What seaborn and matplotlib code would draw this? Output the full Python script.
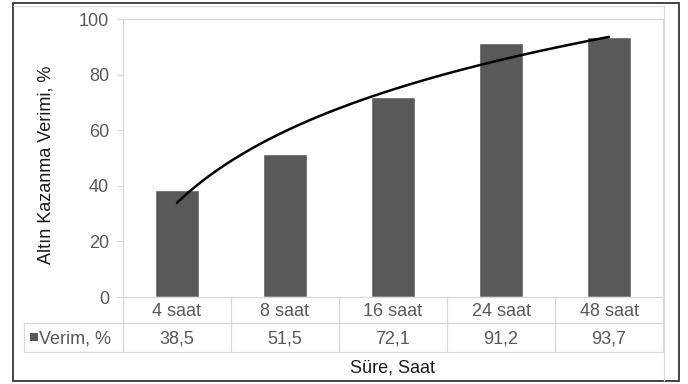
import numpy as np
import pandas as pd
import matplotlib
matplotlib.use("Agg")
import matplotlib.pyplot as plt
import matplotlib.transforms as mtransforms
from matplotlib.patches import Rectangle
import seaborn as sns

# Gold recovery yield by leaching time
categories = ["4 saat", "8 saat", "16 saat", "24 saat", "48 saat"]
verim = [38.5, 51.5, 72.1, 91.2, 93.7]
value_labels = ["38,5", "51,5", "72,1", "91,2", "93,7"]
yticks = [0, 20, 40, 60, 80, 100]
series_name = "Verim, %"
ylabel = "Altın Kazanma Verimi, %"
xlabel = "Süre, Saat"

sns.set_theme(style="white")
plt.rcParams["font.family"] = ["Liberation Sans", "DejaVu Sans"]

BAR = "#595959"
GRID = "#d9d9d9"
TXT = "#595959"
FS = 13

W, H = 688, 384
fig = plt.figure(figsize=(W / 100, H / 100), dpi=100)
L, R, T, B = 123, 663, 19, 297
ax = fig.add_axes([L / W, 1 - B / H, (R - L) / W, (B - T) / H])

df = pd.DataFrame({"Süre": categories, "Verim": verim})
sns.barplot(data=df, x="Süre", y="Verim", color=BAR, saturation=1,
            width=0.4, ax=ax)

# logarithmic trend line fitted to the bar values
idx = np.arange(len(verim))
a, b = np.polyfit(np.log(idx + 1), verim, 1)
xs = np.linspace(0, len(verim) - 1, 200)
ax.plot(xs, a * np.log(xs + 1) + b, color="black", lw=1.8, zorder=3)

ax.set_xlim(-0.5, len(categories) - 0.5)
ax.set_ylim(0, 100)
ax.set_yticks(yticks)
ax.set_xticks([])
ax.set_xlabel("")
ax.set_ylabel(ylabel, fontsize=FS, color="#1a1a1a", va="center")
ax.yaxis.set_label_coords((46 - L) / (R - L), (B - 165) / (B - T))
ax.tick_params(axis="y", left=True, length=4, width=0.8, color=GRID,
               labelcolor=TXT, labelsize=FS, pad=6)
for s in ax.spines.values():
    s.set_color(GRID)
    s.set_linewidth(0.9)

# overlay in pixel coordinates for the data table and frame
ov = fig.add_axes([0, 0, 1, 1])
ov.set_xlim(0, W)
ov.set_ylim(H, 0)
ov.axis("off")
ov.patch.set_visible(False)
trans = mtransforms.blended_transform_factory(ax.transData, ov.transData)

ROW1, ROW2, ROW3 = 297, 323, 352
lkw = dict(color=GRID, lw=0.9, solid_capstyle="butt")
for k in range(len(categories) + 1):
    ov.plot([k - 0.5, k - 0.5], [ROW1, ROW3], transform=trans, **lkw)
ov.plot([24, R], [ROW2, ROW2], **lkw)
ov.plot([24, R], [ROW3, ROW3], **lkw)
ov.plot([24, 24], [ROW2, ROW3], **lkw)
ov.plot([R + 1, R + 1], [5, 381], **lkw)
ov.plot([13, R + 1], [5.5, 5.5], **lkw)

for i, (c, v) in enumerate(zip(categories, value_labels)):
    ov.text(i, (ROW1 + ROW2) / 2 + 1, c, transform=trans, ha="center",
            va="center", fontsize=FS, color=TXT)
    ov.text(i, (ROW2 + ROW3) / 2 + 1, v, transform=trans, ha="center",
            va="center", fontsize=FS, color=TXT)

ov.add_patch(Rectangle((30, 333), 8, 8, color=BAR, lw=0))
ov.text(39, (ROW2 + ROW3) / 2 + 1, series_name, ha="left", va="center",
        fontsize=FS, color=TXT)
ov.text((len(categories) - 1) / 2, 368, xlabel, transform=trans,
        ha="center", va="center", fontsize=FS, color="#1a1a1a")

# outer chart frame
ov.add_patch(Rectangle((13, 3), 666, 378, fill=False, ec="#262626", lw=1.2))

fig.savefig("out.png", dpi=100)
